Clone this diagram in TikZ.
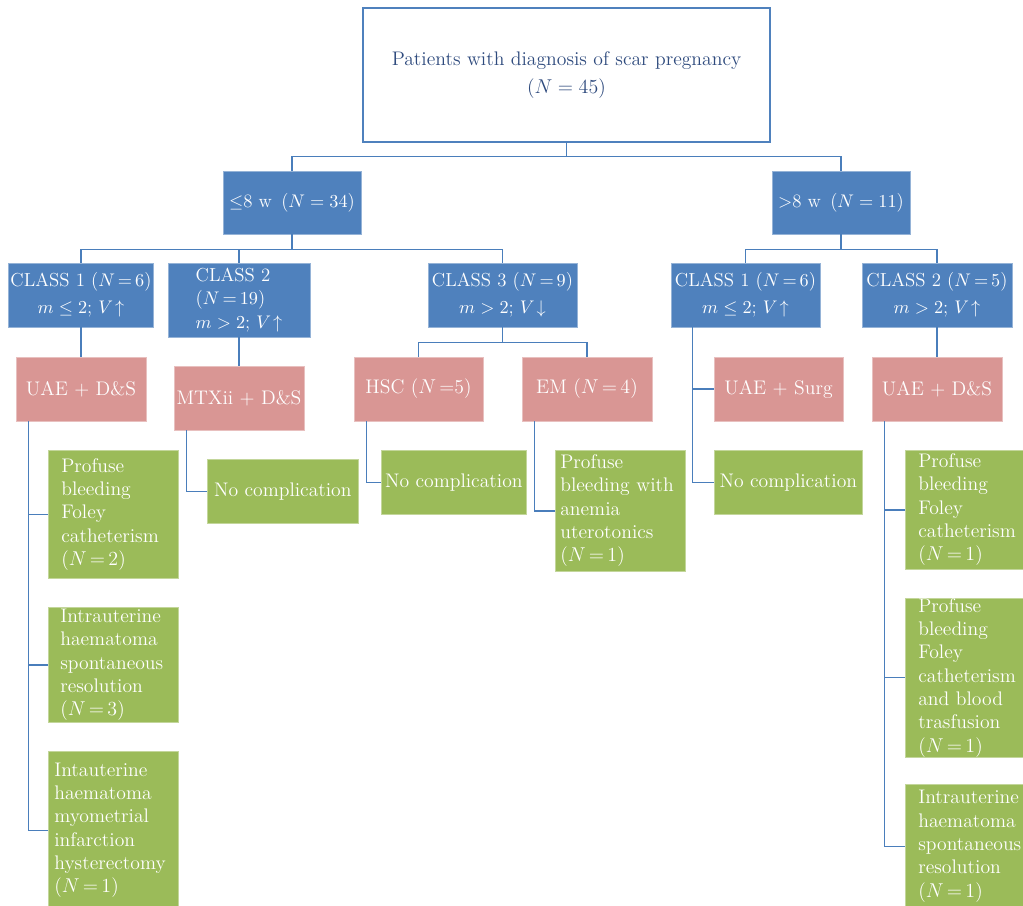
\documentclass[tikz,border=0pt]{standalone}
\usepackage{amsmath, amssymb}
\usepackage{tikz}
\definecolor{boxblue}{HTML}{4F81BD}
\definecolor{boxpink}{HTML}{D99694}
\definecolor{boxgreen}{HTML}{9BBB59}
\definecolor{lineblue}{HTML}{4A7EBB}
\definecolor{navy3}{HTML}{2E4A7D}
\newcommand{\nn}[1]{$N\,{=}\,#1$}

\begin{document}
\begin{tikzpicture}[x=0.6pt, y=-0.6pt, every node/.style={font=\fontsize{11.8}{14}\selectfont},
    conn/.style={draw=lineblue, line width=0.9pt},
    boxsz/.style n args={2}{minimum width=#1*0.6pt, minimum height=#2*0.6pt, inner sep=0pt},
    cls/.style={fill=boxblue, draw=boxblue!60!white, line width=0.4pt, text=white, align=center,
        font=\fontsize{11.3}{14}\selectfont},
    trt/.style={fill=boxpink, draw=boxpink!60!white, line width=0.4pt, text=white, align=center},
    nocmp/.style={fill=boxgreen, draw=boxgreen!60!white, line width=0.4pt, text=white, anchor=north west},
    cmp/.style n args={3}{fill=boxgreen, draw=boxgreen!60!white, line width=0.4pt, text=white,
        align=left, anchor=north west, inner xsep=#1, inner ysep=0pt, text width=#2, minimum height=#3*0.6pt}]

    \useasboundingbox (0,0) rectangle (1023,906);

    % top of the tree
    \node[draw=boxblue, line width=0.8pt, text=navy3, align=center, boxsz={407}{134}] (root) at (566.5,75)
        {Patients with diagnosis of scar pregnancy\\[3pt]($N = 45$)};
    \node[cls, boxsz={138}{63}] (le8) at (292,202.5) {$\leq$8 w \,($N = 34$)};
    \node[cls, boxsz={138}{63}] (gt8) at (841,202.5) {$>$8 w \,($N = 11$)};

    % classes
    \node[cls, boxsz={145}{64}] (cA1) at (81,295) {CLASS 1 (\nn{6})\\[2pt]$m \leq 2$; $V\!\uparrow$};
    \node[cls, boxsz={142}{74}, align=left] (cA2) at (239,300) {CLASS 2\\(\nn{19})\\$m > 2$; $V\!\uparrow$};
    \node[cls, boxsz={149}{64}] (cA3) at (502.5,295) {CLASS 3 (\nn{9})\\[2pt]$m > 2$; $V\!\downarrow$};
    \node[cls, boxsz={149}{64}] (cB1) at (745.5,295) {CLASS 1 (\nn{6})\\[2pt]$m \leq 2$; $V\!\uparrow$};
    \node[cls, boxsz={150}{64}] (cB2) at (937,295) {CLASS 2 (\nn{5})\\[2pt]$m > 2$; $V\!\uparrow$};

    % treatments
    \node[trt, boxsz={130}{64}] (tA1) at (81,389) {UAE + D\&S};
    \node[trt, boxsz={130}{64}] (tA2) at (239,398) {MTXii + D\&S};
    \node[trt, boxsz={129}{64}] (tA3a) at (418.5,389) {HSC ($N$\,=5)};
    \node[trt, boxsz={130}{64}] (tA3b) at (587,389) {EM (\nn{4})};
    \node[trt, boxsz={129}{64}] (tB1) at (778.5,389) {UAE + Surg};
    \node[trt, boxsz={130}{64}] (tB2) at (937,389) {UAE + D\&S};

    % complications
    \node[cmp={7.8pt}{62.4pt}{128}] (gA1a) at (48,450) {Profuse\\bleeding\\Foley\\catheterism\\(\nn{2})};
    \node[cmp={7.2pt}{63.6pt}{115}] (gA1b) at (48,607) {Intrauterine\\haematoma\\spontaneous\\resolution\\(\nn{3})};
    \node[cmp={3.6pt}{70.8pt}{158}] (gA1c) at (48,751) {Intauterine\\haematoma\\myometrial\\infarction\\hysterectomy\\(\nn{1})};
    \node[nocmp, boxsz={151}{64}] (gA2) at (207,459) {No complication};
    \node[nocmp, boxsz={145}{64}] (gA3) at (381,450) {No complication};
    \node[cmp={3pt}{72pt}{121}] (gA3b) at (555,450) {Profuse\\bleeding with\\anemia\\uterotonics\\(\nn{1})};
    \node[nocmp, boxsz={148}{64}] (gB1) at (714,450) {No complication};
    \node[cmp={7.8pt}{62.4pt}{119}] (gB2a) at (905,450) {Profuse\\bleeding\\Foley\\catheterism\\(\nn{1})};
    \node[cmp={7.8pt}{62.4pt}{156}] (gB2b) at (905,598) {Profuse\\bleeding\\Foley\\catheterism\\and blood\\trasfusion\\(\nn{1})};
    \node[cmp={7.8pt}{62.4pt}{124}] (gB2c) at (905,784) {Intrauterine\\haematoma\\spontaneous\\resolution\\(\nn{1})};

    % connectors
    \draw[conn] (root.south) -- ++(0,14) -| (le8.north);
    \draw[conn] (root.south) -- ++(0,14) -| (gt8.north);
    \foreach \c in {cA1,cA2,cA3}
        \draw[conn] (le8.south) -- ++(0,15) -| (\c.north);
    \foreach \c in {cB1,cB2}
        \draw[conn] (gt8.south) -- ++(0,15) -| (\c.north);
    \draw[conn] (cA1.south) -- (tA1.north);
    \draw[conn] (cA2.south) -- (tA2.north);
    \foreach \t in {tA3a,tA3b}
        \draw[conn] (cA3.south) -- ++(0,15) -| (\t.north);
    \draw[conn] (cB2.south) -- (tB2.north);
    \foreach \g in {tB1,gB1}
        \draw[conn] ([xshift=13.2pt]cB1.south west) |- (\g.west);
    \foreach \g in {gA1a,gA1b,gA1c}
        \draw[conn] ([xshift=7.8pt]tA1.south west) |- (\g.west);
    \draw[conn] ([xshift=7.8pt]tA2.south west) |- (gA2.west);
    \draw[conn] ([xshift=7.8pt]tA3a.south west) |- (gA3.west);
    \draw[conn] ([xshift=7.8pt]tA3b.south west) |- (gA3b.west);
    \foreach \g in {gB2a,gB2b,gB2c}
        \draw[conn] ([xshift=7.8pt]tB2.south west) |- (\g.west);

\end{tikzpicture}
\end{document}
